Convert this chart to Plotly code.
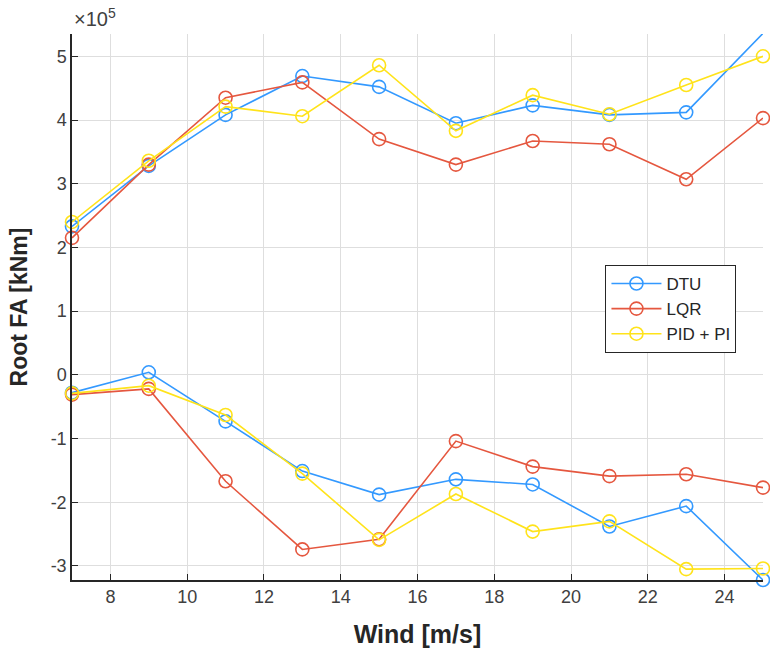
import plotly.graph_objects as go

wind = [7, 9, 11, 13, 15, 17, 19, 21, 23, 25]

dtu_max = [2.33e5, 3.28e5, 4.08e5, 4.69e5, 4.52e5, 3.95e5, 4.23e5, 4.08e5, 4.12e5, 5.36e5]
lqr_max = [2.15e5, 3.30e5, 4.35e5, 4.59e5, 3.70e5, 3.30e5, 3.67e5, 3.62e5, 3.07e5, 4.03e5]
pid_max = [2.40e5, 3.36e5, 4.21e5, 4.06e5, 4.86e5, 3.83e5, 4.39e5, 4.09e5, 4.55e5, 5.00e5]

dtu_min = [-0.28e5, 0.04e5, -0.73e5, -1.51e5, -1.88e5, -1.64e5, -1.72e5, -2.38e5, -2.06e5, -3.22e5]
lqr_min = [-0.31e5, -0.22e5, -1.67e5, -2.74e5, -2.58e5, -1.04e5, -1.44e5, -1.59e5, -1.56e5, -1.77e5]
pid_min = [-0.29e5, -0.17e5, -0.63e5, -1.55e5, -2.59e5, -1.87e5, -2.46e5, -2.30e5, -3.05e5, -3.04e5]

names = ["DTU", "LQR", "PID + PI"]
colors = ["#3399FF", "#E5573F", "#FFE31A"]

x_ticks = [8, 10, 12, 14, 16, 18, 20, 22, 24]
y_ticks = [-3e5, -2e5, -1e5, 0, 1e5, 2e5, 3e5, 4e5, 5e5]
y_ticktext = ["-3", "-2", "-1", "0", "1", "2", "3", "4", "5"]

fig = go.Figure()
series = [(dtu_max, dtu_min), (lqr_max, lqr_min), (pid_max, pid_min)]
for name, color, (ymax, ymin) in zip(names, colors, series):
    for i, yv in enumerate((ymax, ymin)):
        fig.add_trace(go.Scatter(
            x=wind, y=yv, mode="lines+markers", name=name,
            legendgroup=name, showlegend=(i == 0),
            line=dict(color=color, width=1.6),
            marker=dict(symbol="circle-open", size=13, color=color, line=dict(width=1.6, color=color)),
            cliponaxis=False,
        ))

fig.update_layout(
    width=770, height=657,
    margin=dict(l=72, r=7, t=34, b=77),
    paper_bgcolor="white", plot_bgcolor="white",
    font=dict(family="Liberation Sans, Arial, sans-serif", color="#262626"),
    showlegend=True,
    legend=dict(
        x=0.772, y=0.577, xanchor="left", yanchor="top",
        bgcolor="white", bordercolor="#262626", borderwidth=1,
        font=dict(size=17, color="#262626"),
        itemwidth=50, tracegroupgap=0,
    ),
    xaxis=dict(
        range=[7, 25], tickvals=x_ticks, ticktext=[str(v) for v in x_ticks],
        showgrid=True, gridcolor="#DEDEDE", gridwidth=1,
        showline=True, linecolor="#262626", linewidth=1.5,
        ticks="inside", ticklen=6, tickcolor="#262626", tickwidth=1,
        tickfont=dict(size=18, color="#404040"),
        zeroline=False,
        title=dict(text="<b>Wind [m/s]</b>", font=dict(size=25, color="#262626"), standoff=19),
    ),
    yaxis=dict(
        range=[-3.22e5, 5.35e5], tickvals=y_ticks, ticktext=y_ticktext,
        showgrid=True, gridcolor="#DEDEDE", gridwidth=1,
        showline=True, linecolor="#262626", linewidth=1.5,
        ticks="inside", ticklen=6, tickcolor="#262626", tickwidth=1,
        tickfont=dict(size=18, color="#404040"),
        zeroline=False,
        title=dict(text="<b>Root FA [kNm]</b>", font=dict(size=23, color="#262626"), standoff=17),
    ),
)

fig.add_annotation(
    x=0, y=1, xref="paper", yref="paper", xanchor="left", yanchor="bottom",
    text="×10<sup>5</sup>", showarrow=False, yshift=2,
    font=dict(size=20, color="#404040"),
)

fig.write_html("out.html")
